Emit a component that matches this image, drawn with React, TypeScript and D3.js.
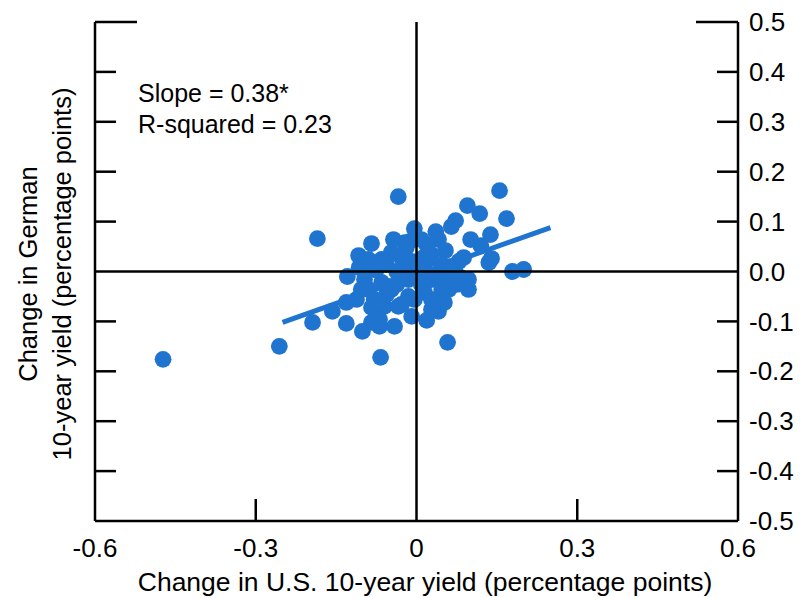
import React, { useEffect, useRef } from 'react'
import * as d3 from 'd3'

// change in U.S. 10-year yield (pp)
const usChange = [
  -0.473, -0.256, -0.194, -0.185, -0.157, -0.129, -0.131, -0.131, -0.108, -0.101,
  -0.067, -0.084, -0.034, -0.004, 0.036, 0.041, 0.065, 0.073, 0.095, 0.118,
  0.155, 0.168, 0.138, 0.101, 0.12, 0.14, 0.179, 0.2, 0.058, 0.019,
  0.041, 0.097, 0.097, 0.079, 0.054, 0.047, 0.028, 0.013, -0.013, -0.028,
  -0.047, -0.065, -0.09, -0.107, -0.097, -0.079, -0.022, -0.065, -0.047, -0.015,
  0.028, 0.065, 0.047, 0.015, -0.004, -0.079, -0.06, -0.009, -0.041, -0.069,
  -0.084, -0.069, 0.135, -0.037, 0.009, -0.056, -0.028, 0.009, -0.103, -0.037,
  -0.009, 0.037, 0.075, -0.084, -0.019, 0.019, -0.056,
  0.088, 0.052, -0.034, -0.065, 0.028, -0.009, -0.022, 0.041, 0.079, -0.052,
  -0.09, -0.015, 0.028, 0.065, -0.075, 0.015, 0.022, -0.071, -0.112, -0.043,
  0.009, 0.06,
]

// change in German 10-year yield (pp)
const deChange = [
  -0.176, -0.15, -0.102, 0.066, -0.08, -0.01, -0.062, -0.104, 0.032, -0.12,
  -0.172, 0.056, 0.15, 0.086, 0.08, 0.064, 0.09, 0.102, 0.132, 0.116,
  0.162, 0.106, 0.074, 0.064, 0.052, 0.026, 0.0, 0.004, -0.142, -0.098,
  -0.08, -0.036, -0.016, 0.02, 0.042, 0.014, 0.034, 0.028, 0.06, 0.028,
  0.038, 0.024, 0.024, 0.008, -0.016, 0.004, 0.01, -0.022, -0.036, -0.016,
  -0.016, -0.01, -0.036, -0.042, -0.056, -0.056, -0.07, -0.09, -0.11, -0.11,
  -0.102, -0.096, 0.018, 0.0, 0.004, -0.046, -0.066, -0.026, -0.036, -0.026,
  0.02, -0.006, -0.026, -0.072, 0.048, 0.054, 0.014,
  0.028, -0.062, -0.07, -0.062, -0.056, 0.018, 0.058, -0.01, -0.01, -0.03,
  -0.036, -0.05, -0.076, 0.01, 0.004, 0.004, 0.024, -0.1, -0.056, 0.064,
  0.064, -0.036,
]

const fitSlope = 0.38
const fitIntercept = -0.007
const fitRange = [-0.25, 0.25]

const xTicks = [-0.6, -0.3, 0, 0.3, 0.6]
const yTicks = [-0.5, -0.4, -0.3, -0.2, -0.1, 0, 0.1, 0.2, 0.3, 0.4, 0.5]

const notes = ['Slope = 0.38*', 'R-squared = 0.23']

const BLUE = '#1f74d0'
const FONT = "'Liberation Sans', Arial, sans-serif"

// plain hyphen for negatives, like the original
const fmt = (t: number) => d3.format('.1f')(t).replace('\u2212', '-')

const App = () => {
  const ref = useRef<SVGSVGElement>(null)

  useEffect(() => {
    const left = 95,
      right = 738,
      top = 22,
      bottom = 521

    const svg = d3.select(ref.current)
    svg.selectAll('*').remove()

    const x = d3.scaleLinear().domain([-0.6, 0.6]).range([left, right])
    const y = d3.scaleLinear().domain([-0.5, 0.5]).range([bottom, top])

    const points = usChange.map((u, i) => ({ u, d: deChange[i] }))

    svg
      .append('g')
      .selectAll('circle')
      .data(points)
      .enter()
      .append('circle')
      .attr('cx', p => x(p.u))
      .attr('cy', p => y(p.d))
      .attr('r', 8.4)
      .attr('fill', BLUE)

    const line = d3
      .line<number>()
      .x(v => x(v))
      .y(v => y(fitSlope * v + fitIntercept))

    svg
      .append('path')
      .datum(fitRange)
      .attr('d', line)
      .attr('fill', 'none')
      .attr('stroke', BLUE)
      .attr('stroke-width', 5)

    const axes = svg
      .append('g')
      .attr('stroke', '#000')
      .attr('stroke-width', 2.5)
      .attr('fill', 'none')

    // frame: left, right, bottom
    axes.append('line').attr('x1', left).attr('x2', left).attr('y1', top).attr('y2', bottom)
    axes.append('line').attr('x1', right).attr('x2', right).attr('y1', top).attr('y2', bottom)
    axes.append('line').attr('x1', left).attr('x2', right).attr('y1', bottom).attr('y2', bottom)

    // zero lines
    axes.append('line').attr('x1', left).attr('x2', right).attr('y1', y(0)).attr('y2', y(0))
    axes.append('line').attr('x1', x(0)).attr('x2', x(0)).attr('y1', top).attr('y2', bottom)

    // y ticks on both sides, pointing inward
    yTicks
      .filter(t => t !== 0 && t !== -0.5)
      .forEach(t => {
        const len = t === 0.5 ? 42 : 21
        axes.append('line').attr('x1', left).attr('x2', left + len).attr('y1', y(t)).attr('y2', y(t))
        axes.append('line').attr('x1', right).attr('x2', right - len).attr('y1', y(t)).attr('y2', y(t))
      })

    // x ticks pointing up
    xTicks
      .filter(t => t !== -0.6 && t !== 0.6 && t !== 0)
      .forEach(t => {
        axes.append('line').attr('x1', x(t)).attr('x2', x(t)).attr('y1', bottom).attr('y2', bottom - 22)
      })

    const txt = svg.append('g').attr('font-family', FONT).attr('fill', '#000')

    txt
      .selectAll('.xlab')
      .data(xTicks)
      .enter()
      .append('text')
      .attr('x', t => x(t))
      .attr('y', bottom + 36)
      .attr('text-anchor', 'middle')
      .attr('font-size', 26)
      .text(t => (t === 0 ? '0' : fmt(t)))

    txt
      .selectAll('.ylab')
      .data(yTicks)
      .enter()
      .append('text')
      .attr('x', right + 11)
      .attr('y', t => y(t))
      .attr('dy', '0.35em')
      .attr('font-size', 26)
      .text(t => fmt(t))

    txt
      .append('text')
      .attr('x', 425)
      .attr('y', 591)
      .attr('text-anchor', 'middle')
      .attr('font-size', 26.5)
      .text('Change in U.S. 10-year yield (percentage points)')

    const ylab = txt
      .append('text')
      .attr('transform', `translate(0, 274) rotate(-90)`)
      .attr('text-anchor', 'middle')
      .attr('font-size', 25.5)
    ylab.append('tspan').attr('x', 0).attr('y', 37).text('Change in German')
    ylab.append('tspan').attr('x', 0).attr('y', 71).text('10-year yield (percentage points)')

    txt
      .selectAll('.note')
      .data(notes)
      .enter()
      .append('text')
      .attr('x', 138)
      .attr('y', (d, i) => 102 + i * 31)
      .attr('font-size', 25)
      .text(d => d)
  }, [])

  return (
    <svg
      ref={ref}
      width={800}
      height={598}
      style={{ position: 'absolute', left: 0, top: 0, background: '#fff' }}
    />
  )
}

export default App
